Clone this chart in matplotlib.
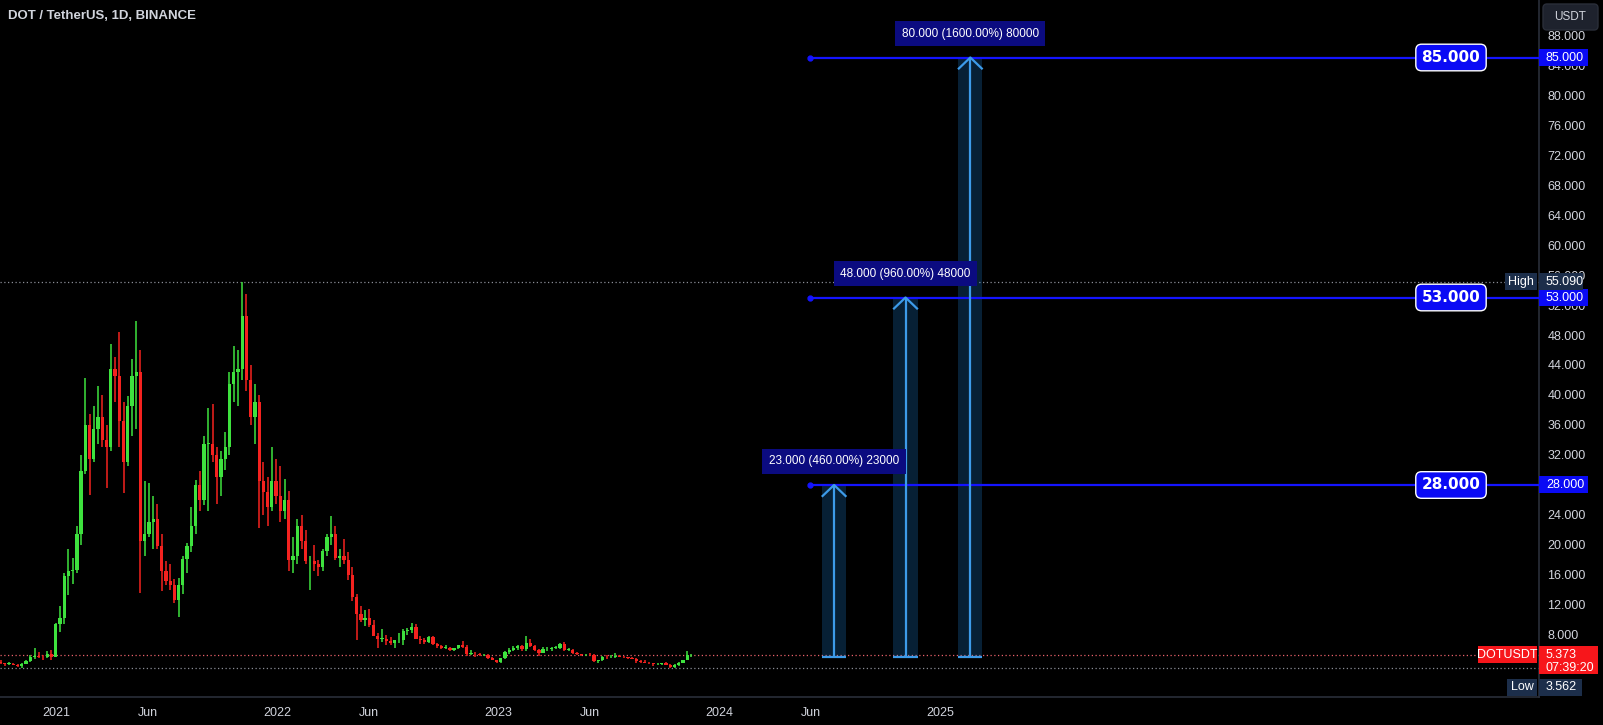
#!/usr/bin/env python3
"""
DOT / TetherUS weekly-summarised candles with three long-position style projections.
Dark TradingView look, saved as out.png (1603x725).
"""
import matplotlib
matplotlib.use('Agg')
import matplotlib.pyplot as plt
import matplotlib.dates as mdates
from matplotlib.patches import Rectangle, FancyBboxPatch
import numpy as np
import pandas as pd

plt.rcParams['font.family'] = ['Liberation Sans', 'DejaVu Sans']

# ---- candle data (one candle per week, weeks starting Monday 2020-09-28) ----
first_week = '2020-09-28'
first_open = 4.45
highs = [
    # 2020
    4.60, 4.30, 4.35, 4.30, 4.10, 4.20, 4.60, 5.30, 6.30, 5.70, 5.30, 5.90, 6.00, 9.60,
    # 2021
    11.8, 16.3, 19.5, 18.3, 22.5, 32.0, 42.3, 37.5, 38.5, 41.2, 40.0, 36.0, 46.8,
    45.0, 48.4, 39.0, 39.8, 44.8, 49.9, 46.0, 28.5, 28.2, 26.5, 25.5, 21.5, 17.8,
    17.5, 15.5, 15.6, 18.5, 20.3, 25.0, 28.6, 29.9, 34.5, 38.3, 38.8, 33.0, 32.5,
    35.0, 43.0, 46.5, 46.0, 55.09, 53.5, 44.0, 41.5, 40.0, 31.0, 29.0, 33.0, 31.5,
    # 2022
    30.5, 28.8, 27.2, 21.0, 23.5, 24.0, 22.0, 18.5, 20.0, 18.0, 19.5, 21.5, 23.9,
    22.5, 19.5, 20.8, 19.0, 17.0, 13.5, 11.8, 11.3, 11.5, 10.0, 8.2, 8.8, 8.0,
    7.7, 7.3, 8.3, 8.8, 8.9, 9.6, 9.5, 7.8, 7.6, 7.9, 7.8, 6.9, 6.6,
    6.7, 6.4, 6.3, 6.7, 7.2, 6.6, 6.0, 5.7, 5.6, 5.5, 5.5, 5.0, 4.7,
    # 2023
    4.9, 5.8, 6.2, 6.5, 6.7, 6.6, 7.8, 7.4, 6.7, 6.1, 6.4, 6.4, 6.4,
    6.5, 6.9, 7.0, 6.3, 6.1, 5.7, 5.5, 5.5, 5.6, 5.4, 4.7, 5.2, 5.3,
    5.3, 5.6, 5.3, 5.2, 5.1, 5.0, 4.9, 4.6, 4.7, 4.4, 4.3, 4.2, 4.3,
    4.4, 4.1, 4.1, 4.4, 4.7, 5.8, 5.5,
]
lows = [
    # 2020
    4.10, 3.90, 4.05, 3.95, 3.75, 3.65, 4.10, 4.40, 4.80, 4.90, 4.70, 4.90, 4.60, 5.00,
    # 2021
    8.4, 9.5, 13.3, 14.8, 16.2, 20.0, 29.5, 26.7, 31.0, 33.5, 33.0, 27.6, 32.5,
    39.0, 33.0, 26.9, 30.5, 34.5, 35.5, 13.6, 18.5, 21.0, 19.5, 19.5, 13.8, 14.6,
    14.0, 12.2, 10.4, 13.5, 16.2, 19.0, 21.5, 24.5, 25.3, 24.5, 31.0, 25.5, 26.5,
    30.0, 32.0, 39.0, 38.5, 42.0, 40.5, 36.0, 33.5, 22.3, 24.0, 22.5, 24.5, 25.5,
    # 2022
    23.0, 23.5, 16.5, 16.3, 17.5, 19.5, 17.5, 14.0, 16.5, 15.8, 16.5, 18.5, 20.0,
    18.0, 17.0, 17.5, 15.3, 12.5, 7.3, 9.7, 9.2, 9.0, 7.8, 6.3, 7.0, 6.6,
    6.7, 6.3, 6.9, 6.7, 8.0, 8.2, 7.4, 6.8, 6.8, 6.9, 6.7, 6.2, 6.1,
    6.1, 5.8, 5.9, 6.1, 6.2, 5.2, 5.3, 5.0, 5.2, 5.2, 4.8, 4.6, 4.2,
    # 2023
    4.3, 4.8, 5.5, 5.8, 6.0, 5.9, 5.9, 6.4, 5.9, 5.2, 5.6, 5.9, 5.9,
    6.1, 6.1, 5.9, 5.8, 5.4, 5.3, 5.2, 5.2, 5.2, 4.4, 4.2, 4.5, 4.8,
    4.9, 4.9, 5.0, 4.9, 4.8, 4.8, 4.3, 4.3, 4.2, 4.1, 3.9, 4.0, 4.0,
    4.0, 3.562, 3.6, 3.9, 4.2, 4.6, 5.0,
]
closes = [
    # 2020
    4.25, 4.15, 4.15, 4.05, 3.90, 4.15, 4.50, 5.10, 5.20, 5.10, 5.00, 5.50, 5.10, 9.40,
    # 2021
    10.2, 15.9, 16.5, 16.6, 21.4, 29.8, 36.0, 31.5, 35.5, 37.0, 34.0, 33.0, 43.5,
    42.5, 36.5, 31.0, 38.5, 42.5, 43.0, 20.5, 21.5, 23.0, 23.5, 19.8, 16.5, 15.2,
    14.6, 12.6, 14.6, 18.1, 19.8, 22.5, 28.0, 26.0, 33.5, 33.5, 32.0, 29.0, 31.5,
    33.0, 41.5, 43.0, 43.5, 50.5, 42.0, 37.0, 39.0, 28.5, 27.0, 25.0, 28.5, 26.5,
    # 2022
    24.5, 26.0, 18.0, 18.5, 22.5, 20.5, 17.8, 17.8, 17.5, 17.0, 19.2, 21.0, 21.5,
    18.3, 18.5, 18.0, 16.0, 13.0, 10.8, 10.0, 10.2, 9.3, 7.9, 7.5, 7.5, 7.2,
    6.9, 7.3, 7.3, 8.5, 8.6, 9.1, 7.5, 7.3, 7.1, 7.7, 6.8, 6.5, 6.3,
    6.3, 6.0, 6.3, 6.6, 6.4, 5.5, 5.5, 5.4, 5.3, 5.3, 4.9, 4.7, 4.4,
    # 2023
    4.9, 5.7, 6.0, 6.3, 6.5, 6.1, 6.9, 6.5, 6.0, 5.6, 6.1, 6.1, 6.3,
    6.3, 6.8, 6.0, 6.0, 5.6, 5.4, 5.3, 5.35, 5.3, 4.5, 4.6, 5.1, 5.0,
    5.0, 5.2, 5.05, 5.0, 4.95, 4.85, 4.5, 4.4, 4.3, 4.2, 4.1, 4.1, 4.2,
    4.0, 3.7, 4.0, 4.3, 4.7, 5.3, 5.373,
]

# ---- projections drawn on the chart ----
proj_base = 5.0
proj_targets = [28.0, 53.0, 85.0]
proj_dates = ['2024-07-09', '2024-11-04', '2025-02-19']
level_start = '2024-05-30'
countdown = '07:39:20'

# ---- axes ----
tick_dates = ['2021-01-01', '2021-06-01', '2022-01-01', '2022-06-01', '2023-01-01',
              '2023-06-01', '2024-01-01', '2024-06-01', '2025-01-01']
tick_labels = ['2021', 'Jun', '2022', 'Jun', '2023', 'Jun', '2024', 'Jun', '2025']
price_ticks = np.arange(8, 92, 4)

# ---- style ----
BG = '#000000'
TXT = '#d1d4dc'
UP = '#3ee23e'
DOWN = '#f5221f'
LEVEL = '#1414ff'
TAG_BLUE = '#0a0af5'
ARROW = '#3d9be9'
GRID_LINE = '#2a2e39'
HL_TAG = '#1c2e4a'

W, H = 1603, 725
PLOT_W, PLOT_H = 1539, 697
YMIN, YMAX = -0.267, 92.667
PX = PLOT_H / (YMAX - YMIN)          # pixels per price unit
DAY_PX = 0.6055                       # pixels per day


def main():
    fig = plt.figure(figsize=(W / 100, H / 100), dpi=100, facecolor=BG)
    ax = fig.add_axes([0, (H - PLOT_H) / H, PLOT_W / W, PLOT_H / H])
    ax.set_facecolor(BG)

    x_left = mdates.date2num(pd.Timestamp('2021-01-01')) - 56 / DAY_PX
    ax.set_xlim(x_left, x_left + PLOT_W / DAY_PX)
    ax.set_ylim(YMIN, YMAX)

    # candles
    o = np.r_[first_open, closes[:-1]]
    c = np.array(closes)
    hi = np.array(highs)
    lo = np.array(lows)
    xs = mdates.date2num(pd.date_range(first_week, periods=len(c), freq='7D')) + 3.5
    cols = np.where(c >= o, UP, DOWN)
    ax.vlines(xs, lo, hi, colors=cols, lw=1.1, zorder=3)
    ax.bar(xs, np.maximum(np.abs(c - o), 0.08), bottom=np.minimum(o, c), width=5.4,
           color=cols, linewidth=0, zorder=3)

    # high / low / last price dotted lines
    high_v, low_v, last_v = hi.max(), lo.min(), c[-1]
    ax.axhline(high_v, color='#8a8d96', ls=(0, (1, 2)), lw=0.9, zorder=2)
    ax.axhline(low_v, color='#8a8d96', ls=(0, (1, 2)), lw=0.9, zorder=2)
    ax.axhline(last_v, color='#e8606a', ls=(0, (1, 2)), lw=0.9, zorder=2)

    # horizontal target levels
    xs_lvl = mdates.date2num(pd.Timestamp(level_start))
    ax.hlines(proj_targets, xs_lvl, ax.get_xlim()[1], color=LEVEL, lw=1.6, zorder=4)
    ax.plot([xs_lvl] * 3, proj_targets, 'o', color=LEVEL, ms=3.5, zorder=4)

    # long-position style projections
    half = 20
    for d, t in zip(proj_dates, proj_targets):
        xd = mdates.date2num(pd.Timestamp(d))
        ax.add_patch(Rectangle((xd - half, proj_base), 2 * half, t - proj_base,
                               fc='#2196f3', alpha=0.22, ec='none', zorder=2))
        ax.vlines(xd, proj_base, t, color=ARROW, lw=1.6, zorder=5)
        ax.hlines(proj_base, xd - half, xd + half, color=ARROW, lw=1.6, zorder=5)
        ax.plot([xd - 19, xd, xd + 19], [t - 11 / PX, t, t - 11 / PX], color=ARROW, lw=1.6, zorder=5)
        diff = t - proj_base
        label = f'{diff:.3f} ({diff / proj_base * 100:.2f}%) {int(round(diff * 1000))}'
        ax.annotate(label, (xd, t), xytext=(0, 17), textcoords='offset points',
                    ha='center', va='center', color='white', fontsize=8.5,
                    bbox=dict(boxstyle='square,pad=0.55', fc='#0b0b80', ec='none'), zorder=6)

    # axes cosmetics
    for s in ['top', 'left']:
        ax.spines[s].set_visible(False)
    for s in ['bottom', 'right']:
        ax.spines[s].set_color(GRID_LINE)
        ax.spines[s].set_linewidth(1.2)
    ax.set_xticks(mdates.date2num(pd.to_datetime(tick_dates)), tick_labels)
    ax.tick_params(axis='x', length=0, pad=7, colors=TXT, labelsize=9)
    ax.yaxis.tick_right()
    ax.set_yticks(price_ticks)
    ax.yaxis.set_major_formatter(matplotlib.ticker.FormatStrFormatter('%.3f'))
    ax.tick_params(axis='y', length=0, pad=6, colors=TXT, labelsize=9)

    # price scale overlay (x in pixels from the scale border)
    rax = fig.add_axes([PLOT_W / W, (H - PLOT_H) / H, (W - PLOT_W) / W, PLOT_H / H])
    rax.set_xlim(0, W - PLOT_W)
    rax.set_ylim(YMIN, YMAX)
    rax.axis('off')
    rax.patch.set_alpha(0)

    def tag(y, text, fc, x0, w, h=17, fs=9):
        rax.add_patch(Rectangle((x0, y - h / 2 / PX), w, h / PX, fc=fc, ec='none',
                                clip_on=False, zorder=5))
        rax.text(x0 + 7 if x0 >= 0 else x0 + w / 2, y, text, color='white', fontsize=fs,
                 ha='left' if x0 >= 0 else 'center', va='center', clip_on=False, zorder=6)

    for t in proj_targets:
        tag(t, f'{t:.3f}', TAG_BLUE, 0, 49)
        rax.text(-88, t, f'{t:.3f}', color='white', fontsize=11, fontweight='bold',
                 family='DejaVu Sans', ha='center', va='center', clip_on=False, zorder=6,
                 bbox=dict(boxstyle='round,pad=0.38', fc=TAG_BLUE, ec='white', lw=1))

    # high tag
    tag(high_v, 'High', HL_TAG, -34, 32)
    tag(high_v, f'{high_v:.3f}', HL_TAG, 0, 44)
    # last price tag with countdown
    tag(last_v, 'DOTUSDT', '#f7161b', -61, 59)
    rax.add_patch(Rectangle((0, last_v - 28 / PX + 8.5 / PX), 59, 28 / PX, fc='#f7161b',
                            ec='none', clip_on=False, zorder=5))
    rax.text(7, last_v, f'{last_v:.3f}', color='white', fontsize=9, va='center', zorder=6)
    rax.text(7, last_v - 13 / PX, countdown, color='white', fontsize=9, va='center', zorder=6)
    # low tag (pushed below the last price tag)
    low_y = low_v - 19 / PX
    tag(low_y, 'Low', HL_TAG, -32, 30)
    tag(low_y, f'{low_v:.3f}', HL_TAG, 0, 43)

    # pixel overlay for header and currency button
    ui = fig.add_axes([0, 0, 1, 1])
    ui.set_xlim(0, W)
    ui.set_ylim(H, 0)
    ui.axis('off')
    ui.patch.set_alpha(0)
    ui.text(8, 16, 'DOT / TetherUS, 1D, BINANCE', color=TXT, fontsize=9.5,
            fontweight='bold', va='center', ha='left')
    ui.add_patch(FancyBboxPatch((1543, 4), 55, 26, boxstyle='round,pad=0,rounding_size=4',
                                fc='#1e222d', ec='#2a2e39', lw=1))
    ui.text(1570.5, 17, 'USDT', color=TXT, fontsize=8.5, ha='center', va='center')

    fig.savefig('out.png', dpi=100, facecolor=BG)
    plt.close(fig)


if __name__ == '__main__':
    main()
